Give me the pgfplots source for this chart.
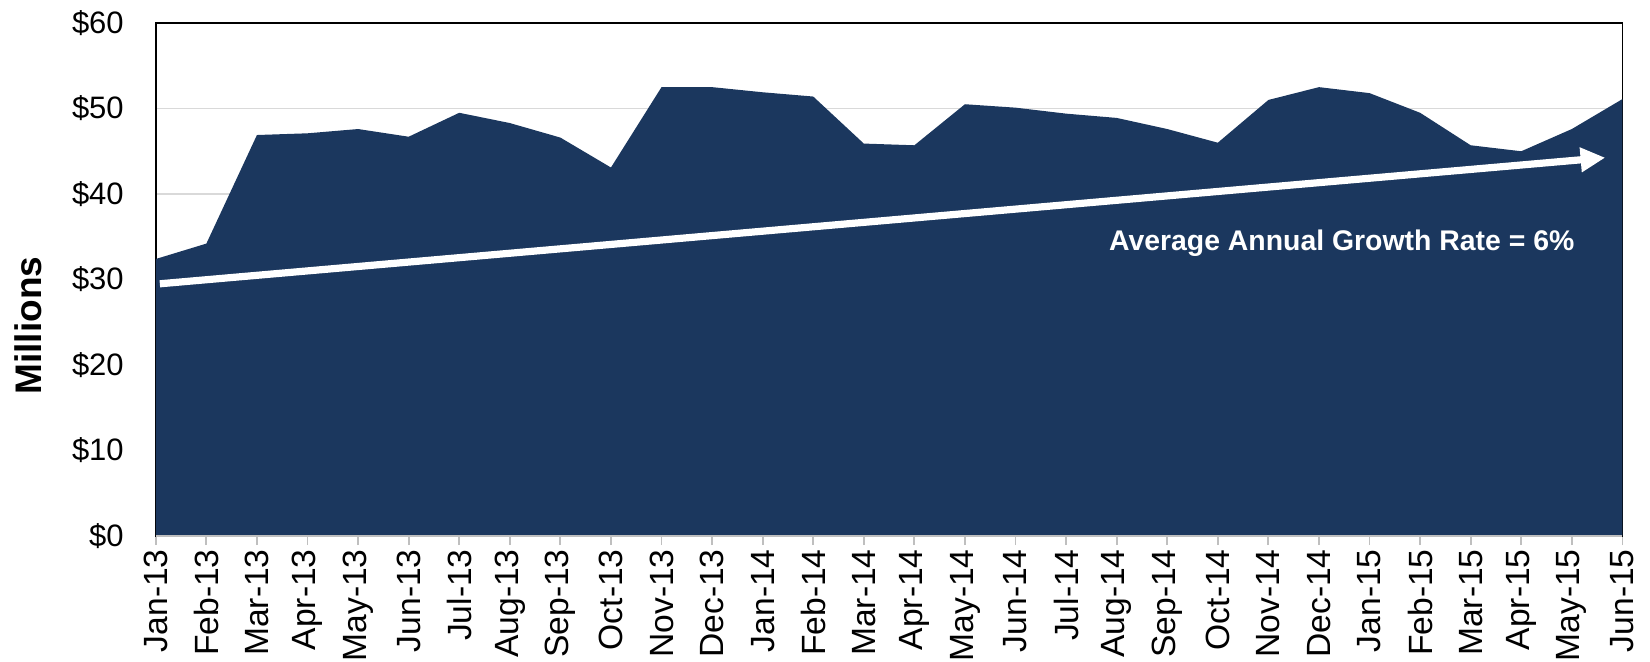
\documentclass[border=0pt]{standalone}
\usepackage{pgfplots}
\pgfplotsset{compat=1.18}
\usepackage{fontspec}
\setmainfont{Liberation Sans}
\usetikzlibrary{arrows.meta}
\definecolor{navy}{HTML}{1B375E}
\definecolor{gridgray}{HTML}{D9D9D9}
\definecolor{axgray}{HTML}{BFBFBF}
\begin{document}
\begin{tikzpicture}
\begin{axis}[
  at={(0,0)}, anchor=south west,
  scale only axis=true,
  width=733.3pt, height=256.5pt,
  xmin=0, xmax=29, ymin=0, ymax=60,
  axis line style={black, line width=0.85pt},
  xtick={0,...,29},
  xticklabels={Jan-13,Feb-13,Mar-13,Apr-13,May-13,Jun-13,Jul-13,Aug-13,Sep-13,Oct-13,Nov-13,Dec-13,Jan-14,Feb-14,Mar-14,Apr-14,May-14,Jun-14,Jul-14,Aug-14,Sep-14,Oct-14,Nov-14,Dec-14,Jan-15,Feb-15,Mar-15,Apr-15,May-15,Jun-15},
  ytick={0,10,...,60},
  yticklabels={\$0,\$10,\$20,\$30,\$40,\$50,\$60},
  tick align=outside,
  xtick pos=bottom, ytick pos=left,
  x tick style={axgray, line width=0.9pt},
  major tick length=4.5pt,
  y tick style={draw=none},
  ymajorgrids=true,
  grid style={gridgray, line width=0.8pt},
  xticklabel style={font=\fontsize{16.8}{18}\selectfont, rotate=90, anchor=east, inner sep=2pt},
  yticklabel style={font=\fontsize{15.5}{17}\selectfont, xshift=-8pt},
  ylabel={\bfseries Millions},
  ylabel style={font=\fontsize{18.5}{20}\selectfont, at={(axis description cs:-0.0871,0.41)}, anchor=center, rotate=0},
  /pgf/number format/assume math mode=true,
  clip=true,
]
\addplot[draw=none, fill=navy] coordinates {
(0,32.4) (1,34.2) (2,46.9) (3,47.1) (4,47.6) (5,46.7) (6,49.5) (7,48.3) (8,46.6) (9,43.1)
(10,52.5) (11,52.5) (12,51.9) (13,51.4) (14,45.9) (15,45.7) (16,50.5) (17,50.1) (18,49.4) (19,48.9)
(20,47.6) (21,46.0) (22,51.0) (23,52.5) (24,51.8) (25,49.5) (26,45.7) (27,45.0) (28,47.6) (29,51.1)
} \closedcycle;
\draw[white, line width=3.6pt, -{Triangle[length=12.3pt,width=11.7pt]}] (axis cs:0.08,29.5) -- (axis cs:28.66,44.25);
\node[white, font=\bfseries\fontsize{14.2}{16}\selectfont] at (axis cs:23.45,34.3) {Average Annual Growth Rate = 6\%};
\draw[axgray, line width=1pt] (axis cs:0,0) -- (axis cs:29,0);
\end{axis}
\pgfresetboundingbox
\useasboundingbox (-77.9pt,-62.5pt) rectangle (747.1pt,268pt);
\end{tikzpicture}
\end{document}
